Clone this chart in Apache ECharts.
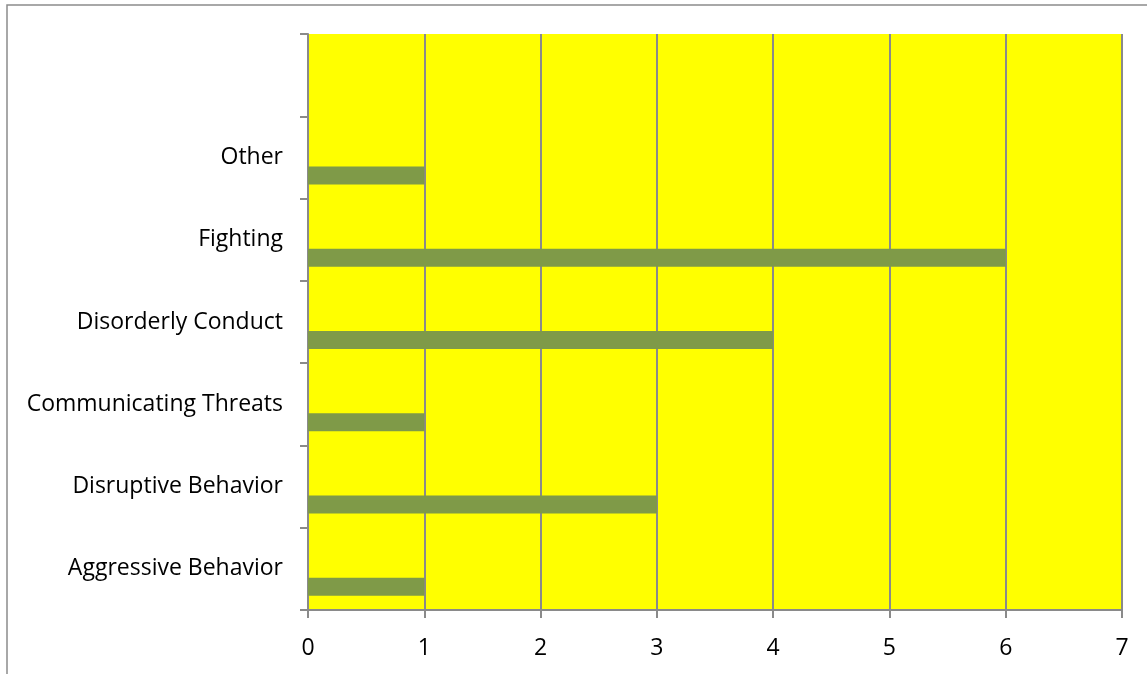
<!DOCTYPE html>
<html>
<head>
<meta charset="utf-8">
<script src="https://cdn.jsdelivr.net/npm/echarts@6/dist/echarts.min.js"></script>
<style>
  html, body { margin: 0; padding: 0; background: #fff; }
  #chart { width: 1147px; height: 674px; }
</style>
</head>
<body>
<div id="chart"></div>
<script>
// categories bottom -> top (top slot is empty in the original)
const categories = ['Aggressive Behavior', 'Disruptive Behavior', 'Communicating Threats', 'Disorderly Conduct', 'Fighting', 'Other', ''];
const counts = [1, 3, 1, 4, 6, 1, null];
const emptySeries = [null, null, null, null, null, null, null];
const xTicks = [0, 1, 2, 3, 4, 5, 6, 7];

const chart = echarts.init(document.getElementById('chart'));

const barColor = '#7f9a48';
const gridColor = '#8a8a8a';
const fontFamily = '"Open Sans", sans-serif';

const option = {
  animation: false,
  graphic: [{
    type: 'rect',
    shape: { x: 7, y: 5, width: 1200, height: 700 },
    style: { fill: 'none', stroke: '#8c8c8c', lineWidth: 1.5 },
    silent: true
  }],
  grid: {
    left: 308,
    right: 25,
    top: 34,
    bottom: 64,
    show: true,
    backgroundColor: '#ffff00',
    borderWidth: 0
  },
  xAxis: {
    type: 'value',
    min: xTicks[0],
    max: xTicks[xTicks.length - 1],
    interval: 1,
    axisLine: { show: true, lineStyle: { color: gridColor, width: 2 } },
    axisTick: { show: true, length: 8, lineStyle: { color: gridColor, width: 2 } },
    axisLabel: { color: '#000', fontSize: 23, fontFamily: fontFamily, margin: 27 },
    splitLine: { show: true, lineStyle: { color: gridColor, width: 2 } }
  },
  yAxis: {
    type: 'category',
    data: categories,
    axisLine: { show: true, lineStyle: { color: gridColor, width: 2 } },
    axisTick: { show: true, length: 8, lineStyle: { color: gridColor, width: 2 } },
    axisLabel: { color: '#000', fontSize: 23, fontFamily: fontFamily, margin: 25 },
    splitLine: { show: false }
  },
  // the visible series goes last so it sits at the bottom of each band
  series: [
    { name: 'b', type: 'bar', data: emptySeries, barWidth: 18, barGap: '0%' },
    { name: 'c', type: 'bar', data: emptySeries, barWidth: 18, barGap: '0%' },
    {
      name: 'Count',
      type: 'bar',
      data: counts,
      barWidth: 18,
      barGap: '0%',
      itemStyle: { color: barColor }
    }
  ]
};

chart.setOption(option);
</script>
</body>
</html>
